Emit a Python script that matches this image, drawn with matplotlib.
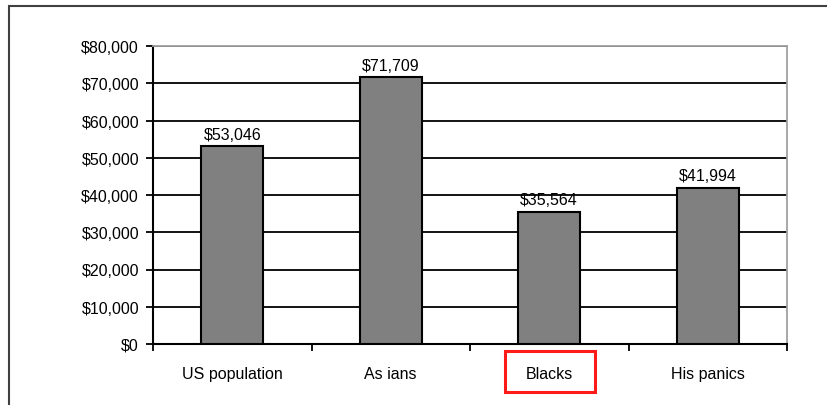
import matplotlib.pyplot as plt
from matplotlib.patches import Rectangle
from matplotlib.ticker import FuncFormatter, MultipleLocator

plt.rcParams['font.family'] = ['Liberation Sans', 'DejaVu Sans']

groups = ['US population', 'As ians', 'Blacks', 'His panics']
income = [53046, 71709, 35564, 41994]
value_labels = ['$53,046', '$71,709', '$35,564', '$41,994']

fig = plt.figure(figsize=(8.27, 4.06), dpi=100)
W, H = 827, 406

# outer chart frame, running off the right and bottom edges
fig.patches.append(Rectangle((9 / W, -0.05), 1.1, (406 - 7) / H + 0.05,
                             transform=fig.transFigure, fill=False,
                             edgecolor='#404040', linewidth=1.5))

ax = fig.add_axes([153 / W, 1 - 345 / H, (787 - 153) / W, (345 - 47) / H])

x = range(len(groups))
ax.bar(x, income, width=0.39, color='#808080', edgecolor='black',
       linewidth=1.5, zorder=3)
for i, (v, lab) in enumerate(zip(income, value_labels)):
    ax.text(i, v + 1100, lab, ha='center', va='bottom', fontsize=11.5, zorder=4)

ax.set_xlim(-0.5, len(groups) - 0.5)
ax.set_ylim(0, 80000)
ax.yaxis.set_major_locator(MultipleLocator(10000))
ax.yaxis.set_major_formatter(FuncFormatter(lambda v, p: f'${v:,.0f}'))
ax.set_xticks(x)
ax.set_xticklabels(groups, fontsize=11.5)
ax.set_xticks([i - 0.5 for i in range(len(groups) + 1)], minor=True)
ax.tick_params(axis='x', which='major', length=0, pad=16)
ax.tick_params(axis='x', which='minor', length=5, width=1.3, color='black')
ax.tick_params(axis='y', length=5, width=1.3, labelsize=11.5, pad=5)

ax.grid(axis='y', color='black', linewidth=1.3, zorder=0)
for side in ['top', 'right']:
    ax.spines[side].set_color('#a0a0a0')
    ax.spines[side].set_linewidth(1.3)
for side in ['left', 'bottom']:
    ax.spines[side].set_color('black')
    ax.spines[side].set_linewidth(1.5)

# highlight box around one category label
fig.patches.append(Rectangle((505 / W, 1 - 393 / H), 90 / W, 41 / H,
                             transform=fig.transFigure, fill=False,
                             edgecolor='#ff1a1a', linewidth=2.2))

fig.savefig('out.png', dpi=100)
